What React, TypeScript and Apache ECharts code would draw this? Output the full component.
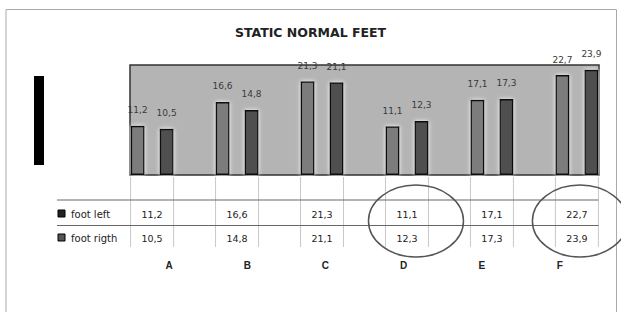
import React, { useEffect, useRef } from "react";
import * as echarts from "echarts";

const TITLE = "STATIC NORMAL FEET";
const categories = ["A", "B", "C", "D", "E", "F"];
const seriesNames = ["foot left", "foot rigth"];
const footLeft = [11.2, 16.6, 21.3, 11.1, 17.1, 22.7];
const footRight = [10.5, 14.8, 21.1, 12.3, 17.3, 23.9];
const circledCategories = ["D", "F"];

const fmt = (v: number) => v.toFixed(1).replace(".", ",");
const FONT = "Liberation Sans, Arial, sans-serif";
const WIDE = "DejaVu Sans, sans-serif";

export default function App() {
  const ref = useRef<HTMLDivElement>(null);
  useEffect(() => {
    if (!ref.current) return;
    const chart = echarts.init(ref.current, null, { renderer: "svg" });
    const barStyle = (color: string) => ({
      color,
      borderColor: "#111",
      borderWidth: 1.5,
      shadowColor: "rgba(255,255,255,0.95)",
      shadowBlur: 4,
    });
    const label = {
      show: true,
      position: "top" as const,
      distance: 11,
      fontSize: 9,
      fontFamily: WIDE,
      color: "#3a3a3a",
      formatter: (p: any) => fmt(p.value[1]),
    };
    chart.setOption({
      animation: false,
      backgroundColor: "#fff",
      title: {
        text: TITLE,
        left: "center",
        top: 21,
        textStyle: { fontSize: 12.5, fontWeight: "bold", color: "#222", fontFamily: WIDE },
      },
      grid: {
        left: 130,
        top: 65,
        width: 469,
        height: 110,
        show: true,
        backgroundColor: "#b4b4b4",
        borderColor: "#333",
        borderWidth: 1.5,
      },
      xAxis: [
        {
          type: "category",
          data: categories,
          boundaryGap: true,
          axisLine: { show: false },
          axisTick: { show: false },
          splitLine: { show: false },
          axisLabel: {
            margin: 85,
            fontSize: 10,
            fontWeight: "bold",
            color: "#222",
            fontFamily: FONT,
          },
        },
        {
          type: "value",
          min: -0.26,
          max: 5.26,
          show: false,
          splitLine: { show: false },
        },
      ],
      yAxis: {
        type: "value",
        min: 0,
        max: 25,
        show: false,
        splitLine: { show: false },
      },
      series: [
        {
          name: seriesNames[0],
          type: "bar",
          xAxisIndex: 1,
          barWidth: 14,
          barGap: "107%",
          data: footLeft.map((v, i) => [i, v]),
          itemStyle: barStyle("#7c7c7c"),
          label,
        },
        {
          name: seriesNames[1],
          type: "bar",
          xAxisIndex: 1,
          barWidth: 14,
          barGap: "107%",
          data: footRight.map((v, i) => [i, v]),
          itemStyle: barStyle("#4f4f4f"),
          label,
        },
      ],
    });

    const cx = (i: number) => chart.convertToPixel({ xAxisIndex: 1 }, i) as number;
    const half = 21.5;
    const g: any[] = [];
    // outer frame
    g.push({
      type: "rect",
      shape: { x: 6, y: 9.5, width: 610.5, height: 330 },
      style: { fill: "none", stroke: "#aaa", lineWidth: 1 },
      silent: true,
    });
    // black bar (redacted axis title)
    g.push({ type: "rect", shape: { x: 34, y: 76, width: 10, height: 89 }, style: { fill: "#000" } });
    // table vertical lines
    categories.forEach((_, i) => {
      [cx(i) - half, cx(i) + half].forEach((x) => {
        g.push({
          type: "line",
          shape: { x1: x, y1: 177, x2: x, y2: 247 },
          style: { stroke: "#c8c8c8", lineWidth: 1 },
        });
      });
    });
    const right = cx(categories.length - 1) + half;
    [200, 225.5].forEach((y) =>
      g.push({
        type: "line",
        shape: { x1: 57, y1: y, x2: right, y2: y },
        style: { stroke: "#666", lineWidth: 1 },
      })
    );
    const rows = [footLeft, footRight];
    const rowY = [214, 238];
    const keyFill = ["#222", "#555"];
    rows.forEach((vals, r) => {
      g.push({
        type: "rect",
        shape: { x: 58, y: rowY[r] - 4, width: 7, height: 7 },
        style: { fill: keyFill[r], stroke: "#000", lineWidth: 1 },
      });
      g.push({
        type: "text",
        x: 71,
        y: rowY[r],
        style: {
          text: seriesNames[r],
          fontSize: 10,
          fontFamily: WIDE,
          fill: "#222",
          verticalAlign: "middle",
        },
      });
      vals.forEach((v, i) => {
        g.push({
          type: "text",
          x: cx(i),
          y: rowY[r],
          style: {
            text: fmt(v),
            fontSize: 9.5,
            fontFamily: WIDE,
            fill: "#222",
            align: "center",
            verticalAlign: "middle",
          },
        });
      });
    });
    // hand-drawn ellipses
    circledCategories.forEach((c, k) => {
      const i = categories.indexOf(c);
      g.push({
        type: "ellipse",
        shape: { cx: cx(i) + (k === 0 ? 9 : 3), cy: 221, rx: 47.5, ry: 36 },
        style: { fill: "none", stroke: "#555", lineWidth: 1.5 },
      });
    });
    chart.setOption({ graphic: g });
    return () => chart.dispose();
  }, []);
  return (
    <div
      ref={ref}
      style={{ position: "absolute", left: 0, top: 0, width: 621, height: 312 }}
    />
  );
}
